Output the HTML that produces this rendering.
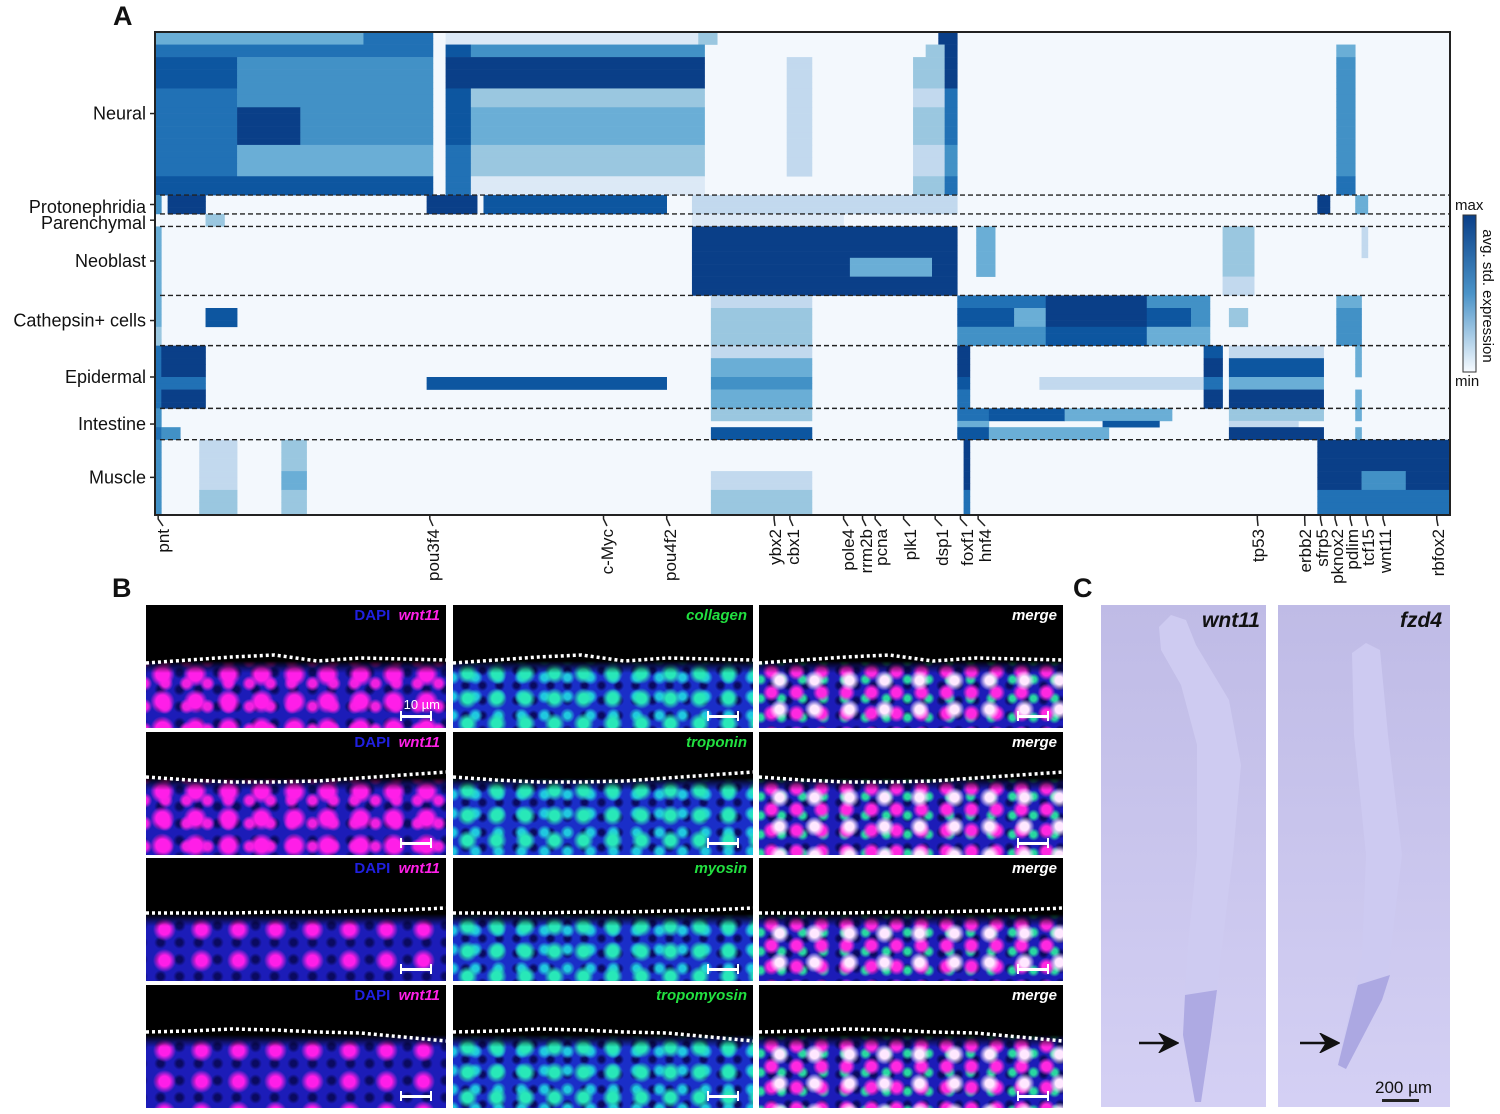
<!DOCTYPE html>
<html><head><meta charset="utf-8">
<style>
body{margin:0;background:#fff;width:1500px;height:1114px;position:relative;overflow:hidden;font-family:"Liberation Sans",sans-serif}
.pl{position:absolute;font-weight:bold;font-size:27px;color:#111}
.img{position:absolute;width:300px;height:123px;background:#000;overflow:hidden}
.tx{position:absolute;left:0;right:0;bottom:0}
.lab{position:absolute;right:6px;top:2px;font-weight:bold;font-style:italic;font-size:15px}
.sb{position:absolute;right:14px;bottom:10px;width:28px;height:3px;background:#fff;border-left:2px solid #fff;border-right:2px solid #fff}
.sb:before{content:"";position:absolute;left:-2px;top:-4px;width:2px;height:10px;background:#fff}
.sb:after{content:"";position:absolute;right:-2px;top:-4px;width:2px;height:10px;background:#fff}
.mag{background-color:#1c1cb8;background-image:radial-gradient(circle,#ff1ee8 0 30%,transparent 58%),radial-gradient(circle,#f020e0 0 22%,transparent 50%),radial-gradient(circle,#0a0a60 0 20%,transparent 50%);background-size:33px 27px,21px 23px,19px 17px;background-position:0 0,9px 11px,5px 3px}
.mag2{background-color:#1c1cb8;background-image:radial-gradient(circle,#ff1ee8 0 22%,transparent 48%),radial-gradient(circle,#0a0a60 0 22%,transparent 50%);background-size:37px 31px,19px 17px;background-position:0 0,5px 3px}
.grn{background-color:#1a2ec8;background-image:radial-gradient(circle,#28e8b8 0 24%,transparent 55%),radial-gradient(circle,#20c8e0 0 20%,transparent 50%),radial-gradient(circle,#0a0a60 0 20%,transparent 50%);background-size:29px 25px,23px 19px,17px 15px;background-position:0 0,11px 7px,4px 2px}
.mrg{background-color:#1c1cb8;background-image:radial-gradient(circle,#ffe8ff 0 18%,transparent 45%),radial-gradient(circle,#ff28e0 0 26%,transparent 55%),radial-gradient(circle,#28d8a0 0 18%,transparent 45%),radial-gradient(circle,#0a0a60 0 20%,transparent 50%);background-size:35px 29px,25px 21px,21px 19px,17px 15px;background-position:3px 5px,0 0,12px 9px,4px 2px}
.cim{position:absolute;background:linear-gradient(#bfbbe6,#d4d0f4)}
</style></head><body>
<div class="pl" style="left:113px;top:1px">A</div>
<div class="pl" style="left:112px;top:573px">B</div>
<div class="pl" style="left:1073px;top:573px">C</div>

<svg id="hm" width="1500" height="600" style="position:absolute;left:0;top:0"></svg>

<div id="panelB"></div>

<div class="cim" style="left:1101px;top:605px;width:165px;height:502px">
<svg width="165" height="502" style="position:absolute;left:0;top:0">
<polygon points="70,10 58,22 60,45 80,80 96,140 96,250 86,350 82,430 94,497 100,497 110,430 120,350 132,250 140,160 128,95 95,40 85,15" fill="#cecbf1"/>
<polygon points="84,390 82,430 94,497 100,497 110,430 116,385" fill="#aeaae3"/>
</svg>
<div style="position:absolute;right:6px;top:4px;font:bold italic 21px 'Liberation Sans',sans-serif;color:#111">wnt11</div>
<svg width="40" height="20" style="position:absolute;left:38px;top:428px"><path d="M0 10 L36 10 M22 2 L38 10 L22 18 L27 10Z" stroke="#111" stroke-width="2.5" fill="#111"/></svg>
</div>
<div class="cim" style="left:1278px;top:605px;width:172px;height:502px">
<svg width="172" height="502" style="position:absolute;left:0;top:0">
<polygon points="88,38 74,48 76,130 88,250 84,350 60,460 68,464 108,385 124,250 110,130 102,45" fill="#cdcaf1"/>
<polygon points="80,380 60,460 68,464 104,395 112,370" fill="#aca8e2"/>
</svg>
<div style="position:absolute;right:8px;top:4px;font:bold italic 21px 'Liberation Sans',sans-serif;color:#111">fzd4</div>
<svg width="40" height="20" style="position:absolute;left:22px;top:428px"><path d="M0 10 L36 10 M22 2 L38 10 L22 18 L27 10Z" stroke="#111" stroke-width="2.5" fill="#111"/></svg>
<div style="position:absolute;left:97px;top:473px;font-size:17px;color:#111">200 µm</div>
<div style="position:absolute;left:104px;top:494px;width:33px;height:3px;background:#222;border-left:2px solid #222;border-right:2px solid #222"></div>
</div>

<script>
// ---- Heatmap data ----
const rowLabels=["Neural","Protonephridia","Parenchymal","Neoblast","Cathepsin+ cells","Epidermal","Intestine","Muscle"];
const clusterStarts=[0,26,29,31,42,50,60,65,77];
const nRows=77, nCols=205;
const bandStart=[0,2,4,9,12,18,23,26,29,31,36,39,42,44,47,50,52,55,57,60,62,63,65,70,73];
const bandSegs=[
"0-43:4,33-43:6,46-86:1,86-88:3,124-126:8",
"0-43:6,46-49:7,50-86:5,122-126:3,125-126:8,187-189:4",
"0-12:7,13-43:5,46-86:8,100-103:2,120-124:3,125-126:8,187-189:5",
"0-12:6,13-43:5,46-49:7,50-86:3,100-103:2,120-124:2,125-126:6,187-189:5",
"0-12:6,13-22:8,23-43:5,46-49:7,50-86:4,100-103:2,120-124:3,125-126:6,187-189:5",
"0-12:6,13-43:4,46-49:6,50-86:3,100-103:2,120-124:2,125-126:5,187-189:5",
"0-43:7,46-49:6,50-86:1,120-124:3,125-126:6,187-189:6",
"0-0:5,2-7:8,43-50:8,52-80:7,85-126:2,184-185:8,190-191:4",
"8-10:3,85-108:1",
"0-0:4,85-126:8,130-132:4,169-173:3,191-191:2",
"0-0:4,85-109:8,110-122:4,123-126:8,130-132:4,169-173:3",
"0-0:4,85-126:8,169-173:2",
"0-0:4,88-103:2,127-140:6,141-156:8,157-166:5,187-190:4",
"0-0:4,8-12:7,88-103:3,127-135:7,136-140:4,141-156:8,157-163:7,164-166:5,170-172:3,187-190:5",
"0-0:3,88-103:3,127-140:5,141-156:7,157-166:4,187-190:5",
"0-0:6,1-7:8,88-103:2,127-128:8,166-168:7,170-184:2,190-190:4",
"0-0:6,1-7:8,88-103:4,127-128:8,166-168:8,170-184:7,190-190:4",
"0-0:6,1-7:6,43-80:7,88-103:5,127-128:7,140-165:2,166-168:6,170-184:4",
"0-0:6,1-7:8,88-103:4,127-128:6,166-168:8,170-184:8,190-190:4",
"0-0:5,88-103:3,127-131:6,132-143:7,144-160:4,170-184:3,190-190:4",
"0-0:5,127-131:4,150-158:7,170-180:2",
"0-0:6,1-3:5,88-103:7,127-131:7,132-150:4,170-184:8,190-190:4",
"0-0:5,7-12:2,20-23:3,128-128:8,184-204:8",
"0-0:5,7-12:2,20-23:4,88-103:2,128-128:8,184-190:8,191-197:5,198-204:8",
"0-0:5,7-12:3,20-23:3,88-103:3,128-128:6,184-204:6"];
const geneNames=["pnt","pou3f4","c-Myc","pou4f2","ybx2","cbx1","pole4","rrm2b","pcna","plk1","dsp1","foxf1","hnf4","tp53","erbb2","sfrp5","pknox2","pdlim","tcf15","wnt11","rbfox2"];
const geneCols=[0.5,43.5,71,81,98,100.5,109,112,114,118.5,123.5,127.5,130.3,174.5,182,184.5,186.8,189.2,191.7,194.4,202.9];
const geneLabelX=[163,433,607,670,775,793,848,866,881,910,942,967,985,1258,1305,1322,1337,1352,1368,1385,1438];
const levelColors=["#f3f8fd","#dce9f6","#c2d9ee","#9ac7e0","#6aaed6","#4291c6","#2171b5","#0d56a0","#0a3f88"];

const NS="http://www.w3.org/2000/svg";
const svg=document.getElementById('hm');
const X0=155,X1=1450,Y0=32,Y1=515;
const cw=(X1-X0)/nCols, rh=(Y1-Y0)/nRows;
const xs=c=>X0+c*cw, ys=r=>Y0+r*rh;
function mk(t,a){const e=document.createElementNS(NS,t);for(const k in a)e.setAttribute(k,a[k]);svg.appendChild(e);return e;}

const grid=[];for(let r=0;r<nRows;r++){grid.push(new Array(nCols).fill(0));}
bandStart.forEach((bs,i)=>{const be=i+1<bandStart.length?bandStart[i+1]:nRows;
 bandSegs[i].split(',').forEach(s=>{const [rng,l]=s.split(':');const [a,b]=rng.split('-').map(Number);
  for(let r=bs;r<be;r++)for(let c=a;c<=Math.min(b,nCols-1);c++)grid[r][c]=+l;});});
const bg=mk('rect',{x:X0,y:Y0,width:X1-X0,height:Y1-Y0,fill:levelColors[0]});


for(let r=0;r<nRows;r++){let c=0;while(c<nCols){const l=grid[r][c];let e=c;while(e+1<nCols&&grid[r][e+1]===l)e++;
 if(l>0){const rc=mk('rect',{x:xs(c).toFixed(2),y:ys(r).toFixed(2),width:(xs(e+1)-xs(c)+0.3).toFixed(2),height:(rh+0.3).toFixed(2),fill:levelColors[l]});
 
 }
 c=e+1;}}
clusterStarts.slice(1,-1).forEach(r=>{const ln=mk('line',{x1:160,x2:X1,y1:ys(r),y2:ys(r),stroke:'#222','stroke-width':1.4,'stroke-dasharray':'5,3'});
 
 });
const fr=mk('rect',{x:X0,y:Y0,width:X1-X0,height:Y1-Y0,fill:'none',stroke:'#222','stroke-width':2});


rowLabels.forEach((n,i)=>{const mid=(ys(clusterStarts[i])+ys(clusterStarts[i+1]))/2;
 let yy=mid; if(n==="Protonephridia")yy=207; if(n==="Parenchymal")yy=223;
 const t=mk('text',{x:146,y:yy+6,'text-anchor':'end','font-size':18,fill:'#111','font-family':'Liberation Sans, sans-serif'});t.textContent=n;
 
 
 const tk=mk('line',{x1:150,x2:155,y1:mid,y2:mid,stroke:'#222','stroke-width':1.5});
 
 });
geneNames.forEach((g,i)=>{const cx=xs(geneCols[i]),lx=geneLabelX[i];
 const p=mk('path',{d:`M${cx} 515 L${cx} 519 L${lx} 526`,stroke:'#222','stroke-width':1.5,fill:'none'});
 
 
 const t=mk('text',{x:0,y:0,transform:`translate(${lx+6},529) rotate(-90)`,'text-anchor':'end','font-size':17,fill:'#111','font-family':'Liberation Sans, sans-serif'});t.textContent=g;
 
 });
const defs=mk('defs',{});defs.innerHTML='<linearGradient id="cb" x1="0" y1="0" x2="0" y2="1"><stop offset="0" stop-color="#0a3f88"/><stop offset="0.5" stop-color="#4a93c8"/><stop offset="1" stop-color="#f7fbff"/></linearGradient>';
const cb=mk('rect',{x:1463,y:215,width:13,height:157,fill:'url(#cb)',stroke:'#333','stroke-width':1});


const tmx=mk('text',{x:1455,y:210,'font-size':15,fill:'#111'});tmx.textContent='max';


const tmn=mk('text',{x:1455,y:386,'font-size':15,fill:'#111'});tmn.textContent='min';


const tcb=mk('text',{x:0,y:0,transform:'translate(1483,296) rotate(90)','text-anchor':'middle','font-size':15,fill:'#111'});tcb.textContent='avg. std. expression';



// ---- Panel B ----
const colX=[146,453,759], rowY=[605,732,858,985];
const rowMarkers=["collagen","troponin","myosin","tropomyosin"];
const lineY=[[58,55,52,50,56,53,54,55],[45,48,50,50,49,46,43,40],[55,55,55,54,54,53,52,50],[47,46,44,45,47,48,52,56]];
const pb=document.getElementById('panelB');
rowY.forEach((ry,ri)=>{colX.forEach((cx,ci)=>{
 const d=document.createElement('div');d.className='img';d.style.left=cx+'px';d.style.top=ry+'px';if(ci===2)d.style.width='304px';
 
 
 const tx=document.createElement('div');tx.className='tx '+(ci===0?(ri<2?'mag':'mag2'):ci===1?'grn':'mrg');
 const top=Math.min(...lineY[ri])+6;tx.style.top=top+'px';
 tx.style.maskImage='linear-gradient(transparent,#000 12px)';tx.style.webkitMaskImage='linear-gradient(transparent,#000 12px)';
 d.appendChild(tx);
 const w=ci===2?304:300;
 const pts=lineY[ri].map((y,i)=>`${(i*w/7).toFixed(1)},${y}`).join(' ');
 d.insertAdjacentHTML('beforeend',`<svg width="${w}" height="123" style="position:absolute;left:0;top:0"><polyline points="${pts}" fill="none" stroke="#fff" stroke-width="3.5" stroke-dasharray="3,3"/></svg>`);
 const lab=document.createElement('div');lab.className='lab';
 if(ci===0)lab.innerHTML='<span style="color:#2020e0;font-style:normal">DAPI</span>&nbsp;&nbsp;<span style="color:#ff20e8">wnt11</span>';
 else if(ci===1)lab.innerHTML='<span style="color:#22e040">'+rowMarkers[ri]+'</span>';
 else lab.innerHTML='<span style="color:#fff">merge</span>';
 d.appendChild(lab);
 const sb=document.createElement('div');sb.className='sb';d.appendChild(sb);
 if(ri===0&&ci===0){const u=document.createElement('div');u.textContent='10 µm';u.style.cssText='position:absolute;right:6px;bottom:16px;color:#fff;font-size:13px';d.appendChild(u);}
 pb.appendChild(d);
});});
</script>
</body></html>
